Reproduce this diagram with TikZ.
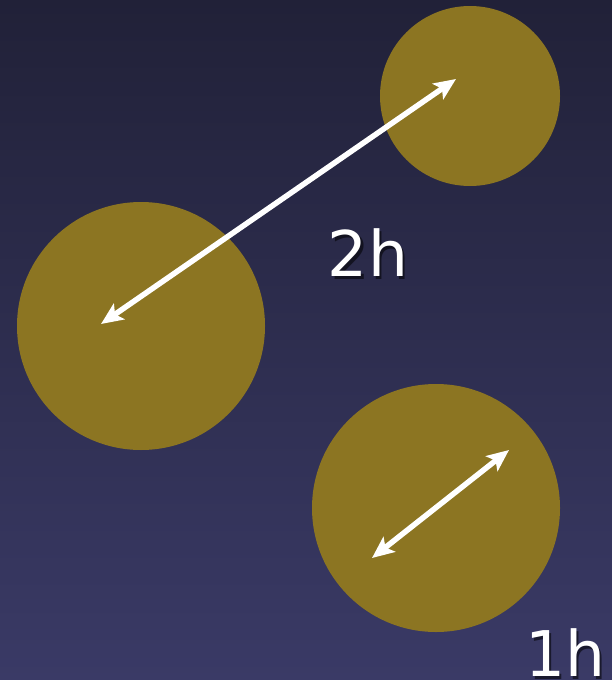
\documentclass[tikz,border=0pt]{standalone}
\usepackage{fontspec}
\setmainfont{DejaVu Sans}
\usepackage{xcolor}
\usetikzlibrary{arrows.meta,positioning,calc}
\definecolor{bgtop}{RGB}{33,33,56}
\definecolor{bgbot}{RGB}{58,58,102}
\definecolor{gold}{RGB}{140,117,34}

\begin{document}
\begin{tikzpicture}[x=1pt,y=-1pt,>={Stealth[length=22pt,width=19pt,inset=5pt]},
  ball/.style={circle,fill=gold,inner sep=0pt,minimum size=#1},
  span/.style={<->,white,line width=5.5pt},
  lbl/.style={text=white,inner sep=0pt,font=\fontsize{63}{63}\selectfont},
  shadowlbl/.style={text=black,opacity=0.55,inner sep=0pt,font=\fontsize{63}{63}\selectfont}]
  \shade[top color=bgtop,bottom color=bgbot] (0,0) rectangle (612,680);
  \useasboundingbox (0,0) rectangle (612,680);
  \node[ball=180pt] (top) at (470,96) {};
  \node[ball=248pt] (left) at (141,326) {};
  \node[ball=248pt] (low) at (436,508) {};
  \coordinate (p1) at (101,324);
  \coordinate (p2) at (456,79);
  \coordinate (q1) at (372,558);
  \coordinate (q2) at (509,450);
  \draw[span] (p1)--(p2);
  \draw[span] (q1)--(q2);
  \node[shadowlbl] at (370.5,255.5) {2h};
  \node[lbl] (two) at (368,253) {2h};
  \node[shadowlbl] at (567.5,655.5) {1h};
  \node[lbl] (one) at (565,653) {1h};
\end{tikzpicture}
\end{document}
